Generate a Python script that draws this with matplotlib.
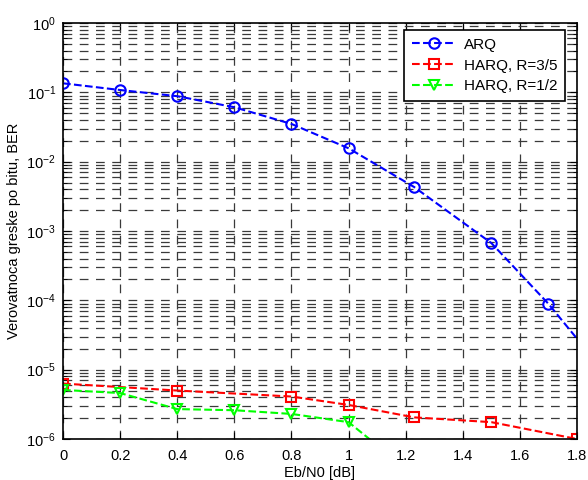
import matplotlib
matplotlib.use("Agg")
import matplotlib.pyplot as plt
from matplotlib.ticker import LogLocator, FixedLocator

plt.rcParams['font.family'] = ['Liberation Sans', 'DejaVu Sans']
plt.rcParams['mathtext.fontset'] = 'custom'
plt.rcParams['mathtext.rm'] = 'Liberation Sans'
plt.rcParams['mathtext.it'] = 'Liberation Sans:italic'
plt.rcParams['font.size'] = 10

# data
x_arq = [0, 0.2, 0.4, 0.6, 0.8, 1.0, 1.23, 1.5, 1.7, 1.8]
ber_arq = [0.135, 0.108, 0.088, 0.061, 0.035, 0.0156, 0.0043, 6.7e-4, 8.9e-5, 2.8e-5]

x_harq35 = [0, 0.4, 0.8, 1.0, 1.23, 1.5, 1.8]
ber_harq35 = [6.3e-6, 5.0e-6, 4.1e-6, 3.1e-6, 2.05e-6, 1.75e-6, 1.0e-6]

x_harq12 = [0, 0.2, 0.4, 0.6, 0.8, 1.0, 1.23]
ber_harq12 = [5.1e-6, 4.6e-6, 2.7e-6, 2.6e-6, 2.3e-6, 1.75e-6, 3e-7]

labels = ['ARQ', 'HARQ, R=3/5', 'HARQ, R=1/2']
xticks = [0, 0.2, 0.4, 0.6, 0.8, 1, 1.2, 1.4, 1.6, 1.8]
xticklabels = ['0', '0.2', '0.4', '0.6', '0.8', '1', '1.2', '1.4', '1.6', '1.8']

fig = plt.figure(figsize=(5.88, 4.8), dpi=100)
ax = fig.add_axes([63/588, 41/480, 514/588, 416/480])

lw = 1.5
ms = 7.5
# last ARQ value is where the line leaves the plot, no marker there
ax.semilogy(x_arq, ber_arq, 'o--', color='b', lw=lw, ms=ms, mfc='none', mew=1.5,
            markevery=list(range(len(x_arq) - 1)), label=labels[0])
ax.semilogy(x_harq35, ber_harq35, 's--', color='r', lw=lw, ms=ms, mfc='none', mew=1.5,
            label=labels[1])
ax.semilogy(x_harq12, ber_harq12, 'v--', color=(0, 1, 0), lw=lw, ms=ms, mfc='none', mew=1.5,
            label=labels[2])

ax.set_xlim(0, 1.8)
ax.set_ylim(1e-6, 1)
ax.xaxis.set_major_locator(FixedLocator(xticks))
ax.set_xticklabels(xticklabels)
ax.yaxis.set_major_locator(LogLocator(base=10, numticks=10))
ax.yaxis.set_minor_locator(LogLocator(base=10, subs=range(2, 10), numticks=20))

ax.grid(True, which='major', linestyle=(0, (7, 6)), color='#3a3a3a', lw=0.9)
ax.grid(True, which='minor', axis='y', linestyle=(0, (7, 6)), color='#3a3a3a', lw=0.9)

ax.tick_params(which='both', direction='in', top=True, right=True, labelsize=10.5)
ax.tick_params(which='major', length=5)
ax.tick_params(which='minor', length=3)
ax.tick_params(axis='x', pad=7)
ax.tick_params(axis='y', pad=5)
for s in ax.spines.values():
    s.set_linewidth(1.2)

ax.set_xlabel('Eb/N0 [dB]', fontsize=10.5)
ax.xaxis.set_label_coords(0.5, -0.066)
ax.set_ylabel('Verovatnoca greske po bitu, BER', fontsize=10.5, labelpad=4)

leg = ax.legend(loc='upper right', bbox_to_anchor=(0.977, 0.983), borderaxespad=0,
                fancybox=False, edgecolor='black', framealpha=1, handlelength=2.9,
                handletextpad=0.5, fontsize=11, borderpad=0.5, labelspacing=0.45)
leg.get_frame().set_linewidth(1.2)

fig.savefig('out.png', dpi=100)
